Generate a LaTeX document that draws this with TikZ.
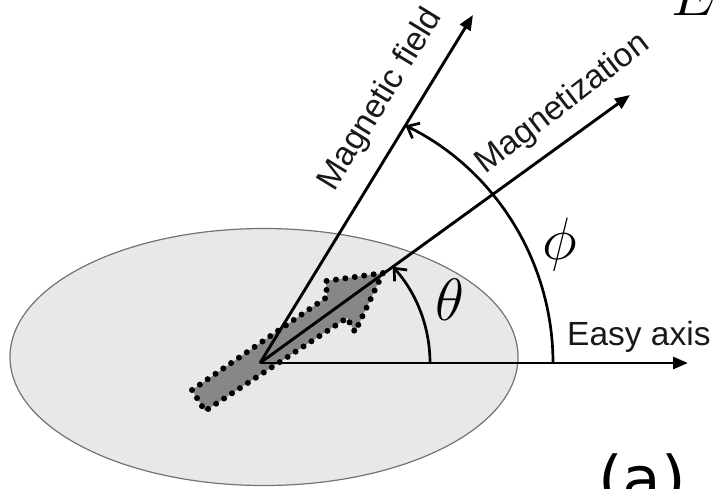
\documentclass[tikz,border=0pt]{standalone}
\usepackage{fontspec}
\setmainfont{Liberation Sans}
\newfontfamily\djv{DejaVu Sans}
\usetikzlibrary{arrows.meta,shapes.geometric}
\begin{document}
\begin{tikzpicture}[x=1pt,y=-1pt,
  lbl/.style={font=\fontsize{33.5}{38}\selectfont, text=black!90, inner sep=0pt},
  greek/.style={font=\Huge, scale=2.4, inner sep=0pt},
  vec/.style={line width=2.9pt, -{Triangle[length=15pt,width=12pt]}},
  ang/.style={line width=2.7pt, -{Straight Barb[length=10pt,width=17pt,line width=2.7pt]}},
  disk/.style={draw=black!55, line width=1.2pt, fill=black!9, ellipse, inner sep=0pt,
    minimum width=508pt, minimum height=257pt},
  blockarrow/.style={fill=black!47, draw=black, line width=6pt, line cap=round,
    dash pattern=on 0pt off 9.5pt}
]
\useasboundingbox (0,0) rectangle (713,488);
\node[disk] (dsk) at (264,357) {};
% block arrow (magnetization)
\draw[blockarrow] (383,273) -- (326,281) -- (327,297) -- (192,390) -- (205,411)
  -- (347,318) -- (355,332) -- cycle;
\coordinate (O) at (260,363);
\coordinate (F) at (473,15);
\coordinate (M) at (630,95);
\coordinate (X) at (688,363);
\draw[vec] (O) -- (F);
\draw[vec] (O) -- (M);
\draw[vec] (O) -- (X);
% angle arcs
\draw[ang] (430,363) arc[start angle=0,end angle=-42.3,radius=143];
\draw[ang] (553,363) arc[start angle=0,end angle=-63.7,radius=265];
% labels
\node[lbl, rotate=58.5] (tF) at (381,100) {Magnetic field};
\node[lbl, rotate=37.5] (tM) at (563,104) {Magnetization};
\node[lbl, anchor=base west] (tX) at (567,345) {Easy axis};
\node[greek] (th) at (450,300) {$\theta$};
\node[greek] (ph) at (560,245) {$\phi$};
\node[greek, anchor=base west] (E) at (671,15) {$E$};
\node[font=\djv\fontsize{63}{70}\selectfont, anchor=base west, inner sep=0pt] (lab) at (598,501) {(a)};
\end{tikzpicture}
\end{document}
